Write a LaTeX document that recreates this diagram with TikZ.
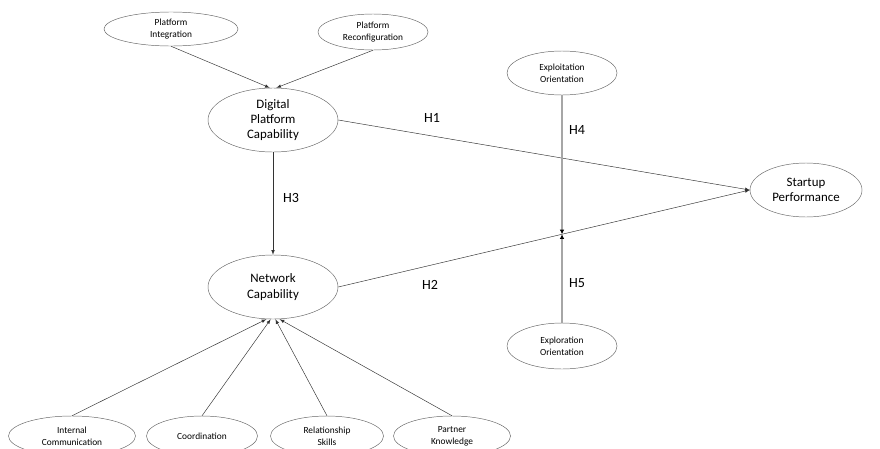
\documentclass[tikz,border=0pt]{standalone}
\usepackage{fontspec}
\setmainfont{Carlito}
\usetikzlibrary{shapes,arrows,arrows.meta,positioning,calc}

\begin{document}
\begin{tikzpicture}[x=0.03cm,y=-0.03cm,
    latent/.style={draw=black!60,ellipse,inner sep=0pt,align=center,font=\fontsize{11}{13}\selectfont},
    indic/.style={draw=black!60,ellipse,inner sep=0pt,align=center,font=\fontsize{8}{10}\selectfont},
    arr/.style={-latex,black!80},
    moder/.style={-{Latex[black,length=4pt,width=4pt]},black!35,line width=1.4pt},
    hlab/.style={font=\fontsize{12}{14}\selectfont}]
    \useasboundingbox (0,0) rectangle (880,448);
    \node[indic,minimum width=134*0.03cm,minimum height=34*0.03cm] (pi) at (171,29) {Platform\\Integration};
    \node[indic,minimum width=110*0.03cm,minimum height=36*0.03cm] (pr) at (373,32) {Platform\\Reconfiguration};
    \node[latent,minimum width=130*0.03cm,minimum height=64*0.03cm] (dpc) at (273,120) {Digital\\Platform\\Capability};
    \node[indic,minimum width=110*0.03cm,minimum height=44*0.03cm] (expt) at (562,73) {Exploitation\\Orientation};
    \node[latent,minimum width=112*0.03cm,minimum height=54*0.03cm] (sp) at (806,190) {Startup\\Performance};
    \node[latent,minimum width=130*0.03cm,minimum height=64*0.03cm] (nc) at (273,287) {Network\\Capability};
    \node[indic,minimum width=110*0.03cm,minimum height=46*0.03cm] (expr) at (562,346) {Exploration\\Orientation};
    \node[indic,minimum width=127*0.03cm,minimum height=40*0.03cm] (ic) at (72,436) {Internal\\Communication};
    \node[indic,minimum width=111*0.03cm,minimum height=40*0.03cm] (co) at (202,436) {Coordination};
    \node[indic,minimum width=113*0.03cm,minimum height=40*0.03cm] (rs) at (327,436) {Relationship\\Skills};
    \node[indic,minimum width=117*0.03cm,minimum height=40*0.03cm] (pk) at (452,436) {Partner\\Knowledge};

    \draw[arr] (pi.south) -- ([xshift=-0.1cm]dpc.north);
    \draw[arr] (pr.south) -- ([xshift=0.1cm]dpc.north);
    \draw[arr] (dpc.east) -- (sp.west);
    \draw[arr] (dpc.south) -- (nc.north);
    \draw[arr] (nc.east) -- (sp.west);
    \draw[arr] (ic.north) -- ([xshift=-0.2cm]nc.south);
    \draw[arr] (co.north) -- ([xshift=-0.07cm]nc.south);
    \draw[arr] (rs.north) -- ([xshift=0.07cm]nc.south);
    \draw[arr] (pk.north) -- ([xshift=0.2cm]nc.south);

    \coordinate (mod) at (intersection of nc.east--sp.west and expt.south--expr.north);
    \draw[moder] (expt.south) -- (mod);
    \draw[moder] (expr.north) -- (mod);

    \node[hlab] (h1) at (432,118) {H1};
    \node[hlab] (h2) at (430,285) {H2};
    \node[hlab] (h3) at (291,198) {H3};
    \node[hlab] (h4) at (577,130) {H4};
    \node[hlab] (h5) at (577,283) {H5};
\end{tikzpicture}
\end{document}
